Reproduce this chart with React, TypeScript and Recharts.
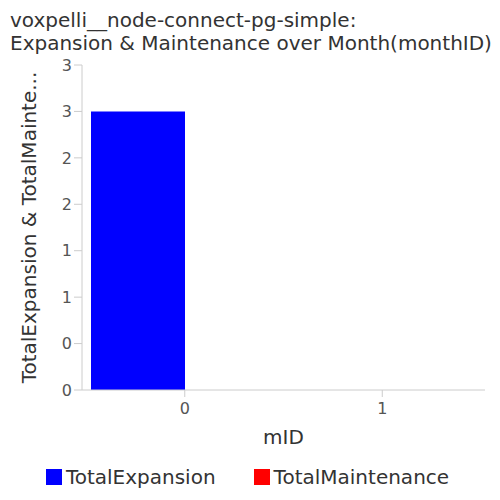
import { BarChart, Bar, XAxis, YAxis, Legend } from "recharts";

const monthIds = [0, 1];
const totalExpansion = [3, 0];
const totalMaintenance = [0, 0];
const yTicks = [0, 0.5, 1, 1.5, 2, 2.5, 3, 3.5];

const seriesNames = ["TotalExpansion", "TotalMaintenance"];
const seriesColors = ["#0000ff", "#ff0000"];

const data = monthIds.map((m, i) => ({
  mID: m,
  TotalExpansion: totalExpansion[i],
  TotalMaintenance: totalMaintenance[i],
}));

const FONT = "DejaVu Sans";

function LegendBox() {
  return (
    <div style={{ display: "flex", justifyContent: "center", height: 30, alignItems: "center", fontFamily: FONT, fontSize: 20, color: "#333", paddingLeft: 10 }}>
      {seriesNames.map((n, i) => (
        <div key={n} style={{ display: "flex", alignItems: "center", marginLeft: i ? 38 : 0 }}>
          <span style={{ width: 16, height: 16, background: seriesColors[i], marginRight: 4, display: "inline-block" }} />
          <span>{n}</span>
        </div>
      ))}
    </div>
  );
}

export default function App() {
  return (
    <div style={{ position: "absolute", left: 0, top: 0, width: 500, height: 500, background: "#fff", fontFamily: FONT }}>
      <div style={{ position: "absolute", left: 10, top: 9, fontSize: 20, lineHeight: "22.5px", color: "#333", whiteSpace: "nowrap" }}>
        voxpelli__node-connect-pg-simple:
        <br />
        Expansion &amp; Maintenance over Month(monthID)
      </div>
      <BarChart
        width={500}
        height={500}
        data={data}
        margin={{ top: 65, right: 15, left: 0, bottom: 8 }}
        barCategoryGap={5}
        barGap={0}
        style={{ fontFamily: FONT }}
      >
        <XAxis
          dataKey="mID"
          padding={{ left: 4, right: 4 }}
          height={72}
          stroke="#ccc"
          tickSize={7}
          tickMargin={6}
          tick={{ fill: "#555", fontSize: 16, fontFamily: FONT }}
          label={{ value: "mID", position: "insideBottom", offset: 18, fill: "#333", fontSize: 20, fontFamily: FONT }}
        />
        <YAxis
          width={82}
          domain={[0, 3.5]}
          ticks={yTicks}
          tickFormatter={(v: number) => String(Math.floor(v))}
          stroke="#ccc"
          tickSize={8}
          tickMargin={2}
          tick={{ fill: "#555", fontSize: 16, fontFamily: FONT }}
          label={{
            value: "TotalExpansion & TotalMainte...",
            angle: -90,
            position: "insideLeft",
            offset: 29,
            fill: "#333",
            fontSize: 20,
            fontFamily: FONT,
            style: { textAnchor: "middle" },
          }}
        />
        <Legend verticalAlign="bottom" content={() => <LegendBox />} />
        <Bar dataKey="TotalExpansion" fill={seriesColors[0]} isAnimationActive={false} />
        <Bar dataKey="TotalMaintenance" fill={seriesColors[1]} isAnimationActive={false} />
      </BarChart>
    </div>
  );
}
